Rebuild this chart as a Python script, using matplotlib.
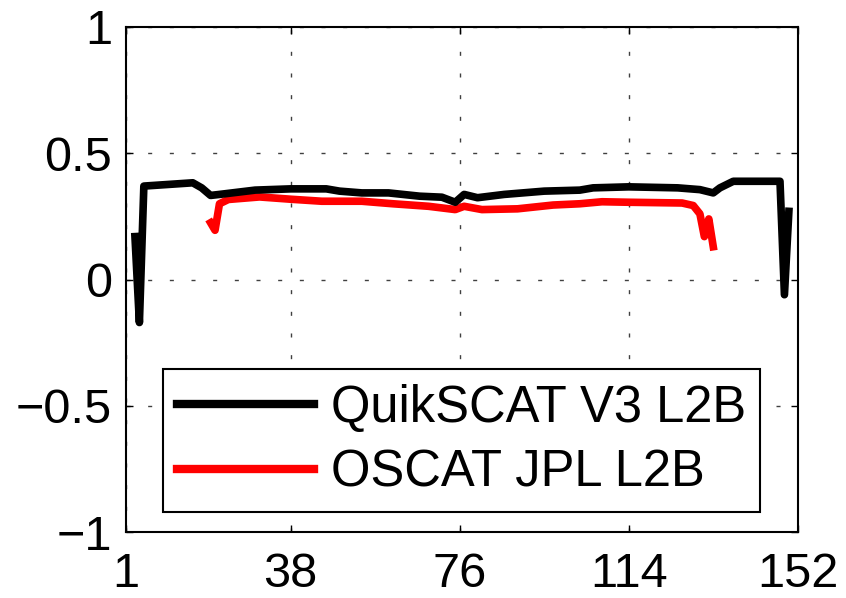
import matplotlib
matplotlib.use("Agg")
import matplotlib.pyplot as plt

plt.rcParams.update({
    "font.family": ["Liberation Sans", "DejaVu Sans"],
    "font.size": 35,
    "axes.linewidth": 1.5,
})

# QuikSCAT V3 L2B profile across the 152 cross-track cells
quik_cell = [3, 4, 5, 16, 18, 20, 22, 30, 38, 46, 49, 54, 60, 67, 72, 75, 77,
             80, 86, 95, 103, 106, 114, 125, 130, 133, 134.5, 137.5, 148, 149, 150]
quik_val = [0.17, -0.17, 0.37, 0.383, 0.363, 0.333, 0.337, 0.354, 0.359, 0.359,
            0.350, 0.343, 0.343, 0.330, 0.326, 0.306, 0.337, 0.324, 0.337, 0.350,
            0.354, 0.363, 0.367, 0.363, 0.356, 0.343, 0.363, 0.389, 0.389, -0.06, 0.27]

# OSCAT JPL L2B profile (narrower swath)
oscat_cell = [20, 21, 22, 24, 31, 38, 45, 54, 61, 69, 75, 77, 81, 89, 97, 103,
              108, 114, 126, 128.5, 130, 131, 132, 133]
oscat_val = [0.225, 0.195, 0.30, 0.317, 0.327, 0.318, 0.31, 0.31, 0.30, 0.29,
             0.277, 0.29, 0.277, 0.28, 0.295, 0.30, 0.308, 0.306, 0.303, 0.293,
             0.26, 0.17, 0.24, 0.13]

x_ticks = [1, 38, 76, 114, 152]
y_ticks = [-1, -0.5, 0, 0.5, 1]

fig = plt.figure(figsize=(8.46, 5.98), dpi=100)
ax = fig.add_axes([0.149, 0.110, 0.794, 0.845])

ax.plot(oscat_cell, oscat_val, color="red", linewidth=5.5, label="OSCAT JPL L2B",
        solid_joinstyle="round")
ax.plot(quik_cell, quik_val, color="black", linewidth=5.5, label="QuikSCAT V3 L2B",
        solid_joinstyle="round")

ax.set_xlim(1, 152)
ax.set_ylim(-1, 1)
ax.set_xticks(x_ticks)
ax.set_yticks(y_ticks)
ax.set_yticklabels(["\u22121", "\u22120.5", "0", "0.5", "1"])

ax.grid(True, color="0.25", linewidth=1.0, linestyle=(0, (2.9, 12.7)))
ax.tick_params(direction="in", length=5, width=1.0, top=True, right=True)
ax.tick_params(axis="x", pad=14)
ax.tick_params(axis="y", pad=10)

handles, labels = ax.get_legend_handles_labels()
leg = ax.legend(handles[::-1], labels[::-1], loc="lower left",
                bbox_to_anchor=(0.055, 0.04), fancybox=False, framealpha=1,
                edgecolor="black", fontsize=36.5, handlelength=2.7,
                handletextpad=0.33, borderpad=0.28, labelspacing=0.32,
                borderaxespad=0)
leg.get_frame().set_linewidth(1.5)
for line in leg.get_lines():
    line.set_linewidth(6)

fig.savefig("out.png", dpi=100)
